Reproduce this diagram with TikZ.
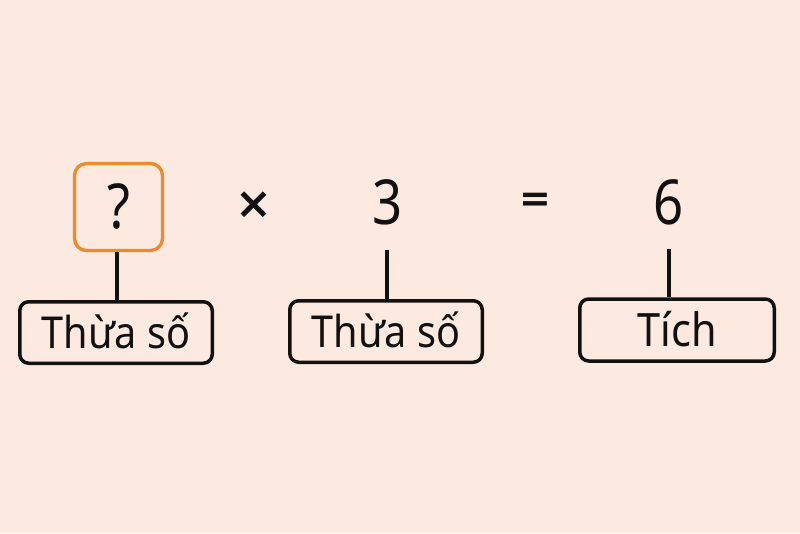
\documentclass[tikz,border=0pt]{standalone}
\usepackage{fontspec}
\setmainfont{Noto Sans}[FakeStretch=0.85]
\newfontfamily\labelfont{Noto Sans}[FakeStretch=0.9]
\newfontfamily\opfont{DejaVu Sans}
\definecolor{bgpeach}{HTML}{FCE9DF}
\definecolor{qorange}{HTML}{EF8A2C}
\definecolor{inkblack}{HTML}{111111}
\begin{document}
\begin{tikzpicture}[x=1pt,y=-1pt,
  labelbox/.style={draw=inkblack, line width=3.5pt, rounded corners=9pt, inner sep=0pt,
    minimum width=192.5pt, minimum height=61.5pt, text=inkblack,
    font=\labelfont\fontsize{44}{44}\selectfont, text height=31pt, text depth=0pt},
  bignum/.style={text=inkblack, inner sep=0pt, font=\fontsize{62}{62}\selectfont},
  opsym/.style={text=inkblack, inner sep=0pt, font=\opfont\bfseries\fontsize{44}{44}\selectfont},
  stem/.style={draw=inkblack, line width=3.5pt}]
\fill[bgpeach] (0,0) rectangle (800,533);
\useasboundingbox (0,0) rectangle (800,533);
\node[draw=qorange, line width=3.3pt, rounded corners=12pt, minimum width=88pt, minimum height=87pt, inner sep=0pt] (q) at (118.5,207) {};
\node[bignum, anchor=base] (qm) at (118.5,228) {?};
\node[opsym] (times) at (253.5,205) {×};
\node[opsym, font=\opfont\bfseries\fontsize{38}{38}\selectfont] (eq) at (535.5,202) {=};
\node[bignum, anchor=base] (three) at (388,224) {3};
\node[bignum, anchor=base] (six) at (668.5,224) {6};
\node[labelbox] (b1) at (116,332.5) {Thừa số};
\node[labelbox] (b2) at (386,331.5) {Thừa số};
\node[labelbox, minimum width=194.5pt, minimum height=62pt, font=\labelfont\fontsize{46}{46}\selectfont, text height=33pt] (b3) at (677,330) {Tích};
\coordinate (t3) at (387,250);
\coordinate (t6) at (669,249);
\draw[stem] (q.south -| b1.north) ++(1,0) -- ([xshift=1pt]b1.north);
\draw[stem] (t3) -- (t3 |- b2.north);
\draw[stem] (t6) -- (t6 |- b3.north);
\end{tikzpicture}
\end{document}
